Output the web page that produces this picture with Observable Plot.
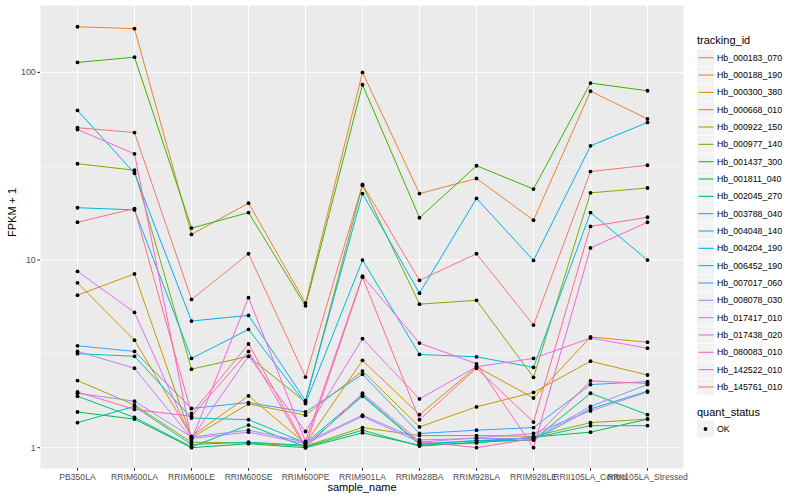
<!DOCTYPE html>
<html>
<head>
<meta charset="utf-8">
<script src="https://cdn.jsdelivr.net/npm/d3@7"></script>
<script src="https://cdn.jsdelivr.net/npm/@observablehq/plot@0.6"></script>
<style>
  html, body { margin: 0; padding: 0; background: white; }
  #wrap { position: relative; width: 800px; height: 500px; font-family: "Liberation Sans", Arial, Helvetica, sans-serif; }
  #chart { position: absolute; left: 0; top: 0; }
  #legend { position: absolute; left: 0; top: 0; }
</style>
</head>
<body>
<div id="wrap"><div id="chart"></div><svg id="legend" width="800" height="500"></svg></div>
<script>
const samples = ["PB350LA","RRIM600LA","RRIM600LE","RRIM600SE","RRIM600PE","RRIM901LA","RRIM928BA","RRIM928LA","RRIM928LE","RRII105LA_Control","RRII105LA_Stressed"];

const trackingIds = ["Hb_000183_070","Hb_000188_190","Hb_000300_380","Hb_000668_010","Hb_000922_150","Hb_000977_140","Hb_001437_300","Hb_001811_040","Hb_002045_270","Hb_003788_040","Hb_004048_140","Hb_004204_190","Hb_006452_190","Hb_007017_060","Hb_008078_030","Hb_017417_010","Hb_017438_020","Hb_080083_010","Hb_142522_010","Hb_145761_010"];

const idColors = ["#F8766D","#EA8331","#D89000","#C09B00","#A3A500","#7CAE00","#39B600","#00BB4E","#00BF7D","#00C1A3","#00BFC4","#00BAE0","#00B0F6","#35A2FF","#9590FF","#C77CFF","#E76BF3","#FA62DB","#FF62BC","#FF6C91"];

// FPKM + 1 per sample (order of samples)
const hb_000183_070 = [50.7, 47.8, 6.17, 10.8, 2.38, 25.3, 7.8, 10.8, 4.5, 29.6, 32.0];
const hb_000188_190 = [175, 171, 13.7, 20.1, 5.9, 100, 22.6, 27.2, 16.3, 79.4, 56.5];
const hb_000300_380 = [7.56, 3.74, 1.15, 1.89, 1.05, 2.92, 1.50, 2.70, 1.84, 3.89, 3.65];
const hb_000668_010 = [6.5, 8.43, 1.13, 1.71, 1.49, 2.56, 1.29, 1.65, 1.97, 2.89, 2.44];
const hb_000922_150 = [2.28, 1.69, 1.07, 1.06, 1.02, 1.28, 1.16, 1.16, 1.15, 1.36, 1.42];
const hb_000977_140 = [32.6, 30.1, 2.62, 3.07, 1.75, 25.0, 5.82, 6.1, 2.37, 22.8, 24.2];
const hb_001437_300 = [113, 120.5, 14.8, 17.9, 5.7, 85.9, 16.8, 31.8, 23.9, 87.7, 79.8];
const hb_001811_040 = [1.55, 1.42, 1.0, 1.05, 1.0, 1.20, 1.03, 1.06, 1.14, 1.21, 1.42];
const hb_002045_270 = [1.88, 1.45, 1.01, 1.32, 1.01, 1.24, 1.02, 1.07, 1.10, 1.95, 1.50];
const hb_003788_040 = [1.36, 1.66, 1.04, 1.07, 1.03, 1.88, 1.04, 1.09, 1.13, 1.31, 1.31];
const hb_004048_140 = [3.17, 3.07, 1.44, 1.41, 1.06, 1.91, 1.05, 1.09, 1.10, 1.61, 2.0];
const hb_004204_190 = [19.0, 18.5, 2.99, 4.27, 1.72, 10.0, 3.14, 3.05, 2.68, 17.9, 10.0];
const hb_006452_190 = [62.7, 29.0, 4.73, 5.07, 1.78, 22.6, 6.66, 21.3, 9.95, 40.6, 54.1];
const hb_007017_060 = [3.49, 3.26, 1.62, 1.74, 1.55, 2.46, 1.19, 1.24, 1.28, 2.17, 2.25];
const hb_008078_030 = [1.95, 1.77, 1.14, 1.24, 1.07, 1.49, 1.10, 1.12, 1.12, 1.66, 2.17];
const hb_017417_010 = [3.26, 2.65, 1.12, 1.21, 1.05, 1.47, 1.07, 1.13, 1.19, 1.57, 1.98];
const hb_017438_020 = [8.7, 5.26, 1.12, 3.07, 1.22, 3.81, 1.82, 2.70, 2.99, 3.84, 3.39];
const hb_080083_010 = [49.6, 36.8, 1.10, 6.3, 1.08, 8.2, 3.61, 2.80, 1.0, 11.6, 15.9];
const hb_142522_010 = [1.98, 1.60, 1.47, 3.26, 1.0, 1.95, 1.08, 1.0, 1.12, 2.27, 2.20];
const hb_145761_010 = [15.9, 18.8, 1.52, 3.57, 1.02, 8.1, 1.41, 2.65, 1.37, 15.1, 16.9];

const yTicks = [1, 10, 100];
const yMinor = [3.1623, 31.623];

const seriesList = [hb_000183_070, hb_000188_190, hb_000300_380, hb_000668_010, hb_000922_150, hb_000977_140, hb_001437_300, hb_001811_040, hb_002045_270, hb_003788_040, hb_004048_140, hb_004204_190, hb_006452_190, hb_007017_060, hb_008078_030, hb_017417_010, hb_017438_020, hb_080083_010, hb_142522_010, hb_145761_010];

const data = [];
seriesList.forEach((vals, i) => vals.forEach((v, j) => data.push({id: trackingIds[i], sample: samples[j], value: v})));

const font = "Liberation Sans, Arial, Helvetica, sans-serif";

const chart = Plot.plot({
  width: 690, height: 500,
  marginLeft: 40, marginRight: 7, marginTop: 5, marginBottom: 32,
  style: {fontFamily: font, background: "transparent", overflow: "visible"},
  x: {type: "point", domain: samples, padding: 0.6, label: null},
  y: {type: "log", domain: [0.7747, 227.2], label: null},
  color: {domain: trackingIds, range: idColors},
  marks: [
    Plot.frame({fill: "#EBEBEB", stroke: null}),
    Plot.gridY(yMinor, {stroke: "white", strokeOpacity: 1, strokeWidth: 0.55}),
    Plot.gridY(yTicks, {stroke: "white", strokeOpacity: 1, strokeWidth: 1.1}),
    Plot.gridX(samples, {stroke: "white", strokeOpacity: 1, strokeWidth: 1.1}),
    Plot.line(data, {x: "sample", y: "value", z: "id", stroke: "id", strokeWidth: 1}),
    Plot.dot(data, {x: "sample", y: "value", fill: "black", r: 1.9, stroke: null}),
    Plot.axisY(yTicks, {tickSize: 2.75, tickPadding: 2, tickFormat: d => String(d), fontSize: 8.8, fill: "#4D4D4D", stroke: "#333333", label: null}),
    Plot.axisX(samples, {tickSize: 2.75, tickPadding: 2.5, fontSize: 8.6, fill: "#4D4D4D", stroke: "#333333", label: null}),
    Plot.text(["FPKM + 1"], {frameAnchor: "left", dx: -28, rotate: -90, fontSize: 11, fill: "black"}),
    Plot.text(["sample_name"], {frameAnchor: "bottom", dy: 22.5, fontSize: 11, fill: "black"})
  ]
});
document.getElementById("chart").appendChild(chart);

// legend on the right
const lg = d3.select("#legend").style("font-family", font);
lg.append("text").attr("x", 697).attr("y", 44).attr("font-size", 11).text("tracking_id");
const step = 17.33, y0 = 57.7;
trackingIds.forEach((id, i) => {
  const cy = y0 + i * step;
  lg.append("rect").attr("x", 697).attr("y", cy - 8.3).attr("width", 17).attr("height", 16.6).attr("fill", "#F2F2F2");
  lg.append("line").attr("x1", 698.5).attr("x2", 713.5).attr("y1", cy).attr("y2", cy).attr("stroke", idColors[i]).attr("stroke-width", 1.1);
  lg.append("text").attr("x", 717).attr("y", cy + 3.1).attr("font-size", 8.8).text(id);
});
lg.append("text").attr("x", 697).attr("y", 416).attr("font-size", 11).text("quant_status");
lg.append("rect").attr("x", 697).attr("y", 429 - 8.3).attr("width", 17).attr("height", 16.6).attr("fill", "#F2F2F2");
lg.append("circle").attr("cx", 705.5).attr("cy", 429).attr("r", 1.9).attr("fill", "black");
lg.append("text").attr("x", 717).attr("y", 432.1).attr("font-size", 8.8).text("OK");
</script>
</body>
</html>
